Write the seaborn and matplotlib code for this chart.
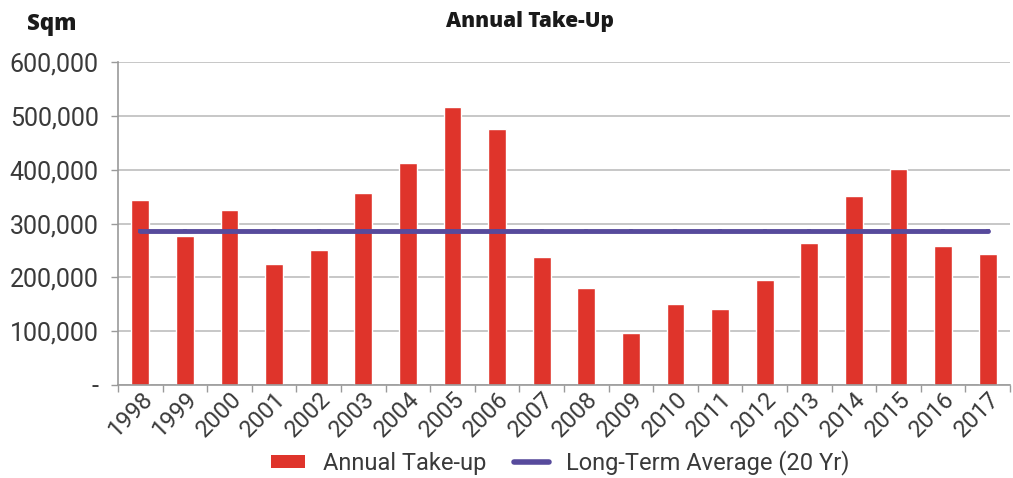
import numpy as np
import pandas as pd
import matplotlib
matplotlib.use("Agg")
import matplotlib.pyplot as plt
from matplotlib.patches import Patch
from matplotlib.lines import Line2D
import matplotlib.ticker as mticker
import seaborn as sns

years = [str(y) for y in range(1998, 2018)]
take_up = [343000, 277000, 326000, 224000, 250000, 357000, 413000, 517000, 476000,
           238000, 180000, 97000, 150000, 141000, 195000, 264000, 352000, 401000,
           258000, 243000]
long_term_avg = [286000] * 20

sns.set_theme(style="white")
plt.rcParams['font.family'] = ['Roboto', 'DejaVu Sans']

bar_color = "#DF342B"
line_color = "#574A9C"
text_color = "#3A3A3A"
grid_color = "#BDBDBD"

df = pd.DataFrame({"Year": years, "Take-up": take_up, "Average": long_term_avg})

fig = plt.figure(figsize=(10.13, 4.78), dpi=100)
ax = fig.add_axes([0.1165, 0.1946, 0.8805, 0.6756])

sns.barplot(data=df, x="Year", y="Take-up", color=bar_color, width=0.4,
            saturation=1, ax=ax, zorder=2)
sns.pointplot(data=df, x="Year", y="Average", color=line_color, ax=ax,
              markers="|", markersize=3, linewidth=3.5, zorder=3)

ax.set_xlim(-0.5, len(years) - 0.5)
ax.set_ylim(0, 600000)
ax.yaxis.set_major_locator(mticker.MultipleLocator(100000))
ax.yaxis.set_major_formatter(mticker.FuncFormatter(
    lambda v, p: "-" if v == 0 else f"{int(v):,}"))
ax.grid(axis="y", color=grid_color, linewidth=1.2, zorder=0)
ax.set_axisbelow(True)
for s in ["top", "right"]:
    ax.spines[s].set_visible(False)
for s in ["left", "bottom"]:
    ax.spines[s].set_color("#9A9A9A")
    ax.spines[s].set_linewidth(1.2)

ax.set_xlabel("")
ax.set_ylabel("")
ax.tick_params(axis="y", labelsize=18, colors=text_color, length=5, width=1,
               color="#9A9A9A", direction="out", left=True, pad=9)
ax.tick_params(axis="x", labelsize=17, colors=text_color, length=0, pad=2)
# boundary ticks between categories
ax.set_xticks(np.arange(-0.5, len(years), 1.0), minor=True)
ax.tick_params(axis="x", which="minor", length=5, width=1, color="#9A9A9A",
               bottom=True)
for lbl in ax.get_xticklabels():
    lbl.set_rotation(45)
    lbl.set_ha("right")
    lbl.set_rotation_mode("anchor")

fig.text(0.523, 0.955, "Annual Take-Up", ha="center", va="center",
         fontsize=15, fontweight="heavy", color="#1A1A1A",
         family=["Open Sans", "DejaVu Sans"])
fig.text(0.027, 0.950, "Sqm", ha="left", va="center",
         fontsize=16, fontweight="heavy", color="#1A1A1A",
         family=["Open Sans", "DejaVu Sans"])

handles = [Patch(facecolor=bar_color, edgecolor="none", label="Annual Take-up"),
           Line2D([0], [0], color=line_color, linewidth=4, solid_capstyle="round",
                  label="Long-Term Average (20 Yr)")]
fig.legend(handles=handles, loc="center", bbox_to_anchor=(0.553, 0.032), ncol=2,
           frameon=False, fontsize=17, handlelength=1.45, handleheight=0.5,
           handletextpad=0.75, columnspacing=1.2, labelcolor=text_color)

fig.savefig("out.png", dpi=100)
